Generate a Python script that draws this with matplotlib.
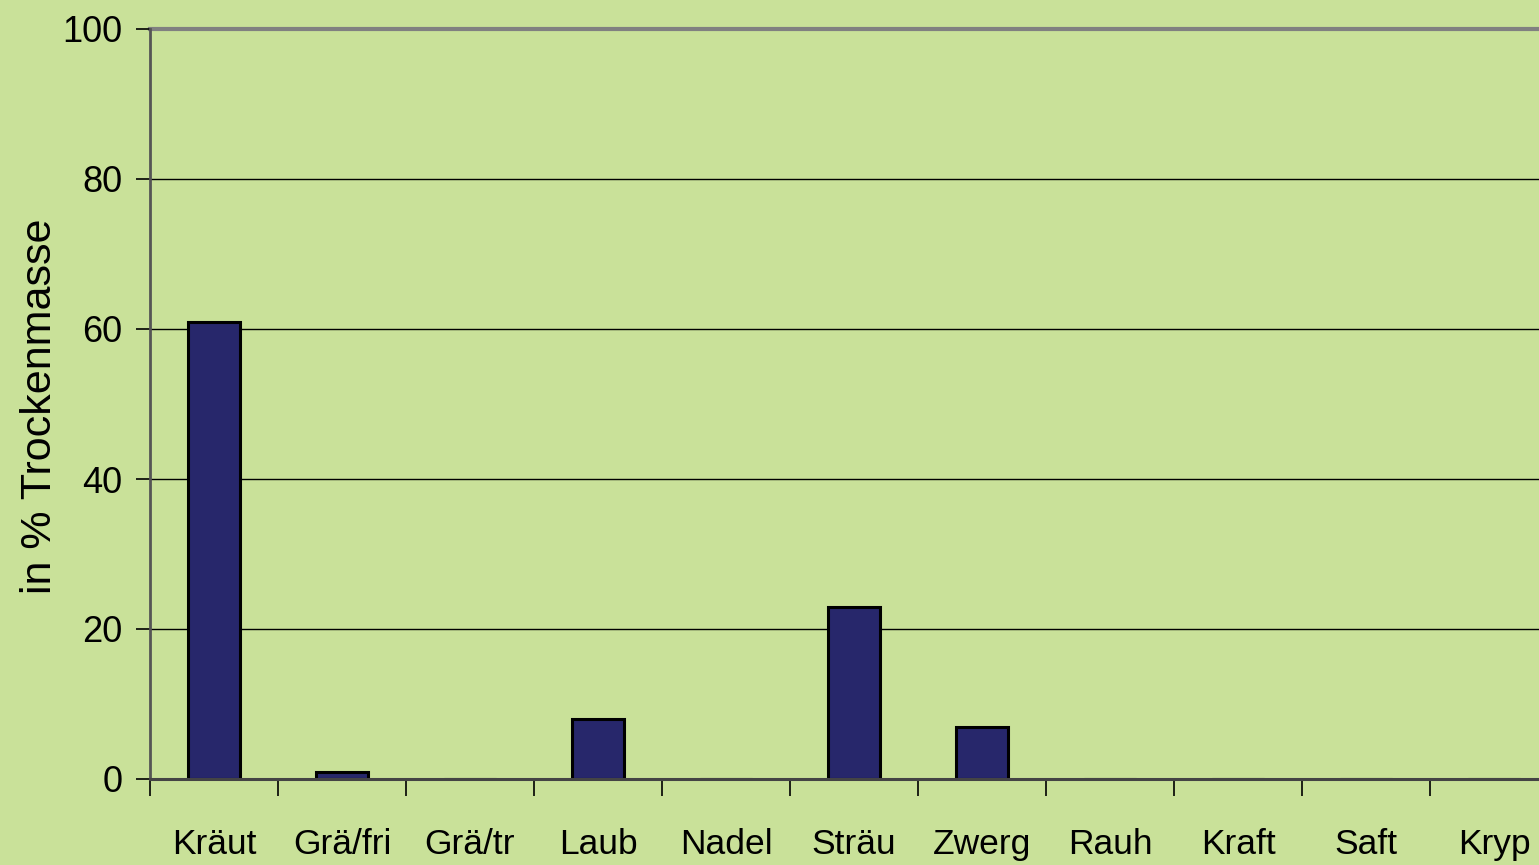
import matplotlib
matplotlib.use("Agg")
import matplotlib.pyplot as plt
import numpy as np

categories = ["Kräut", "Grä/fri", "Grä/tr", "Laub", "Nadel", "Sträu", "Zwerg", "Rauh", "Kraft", "Saft", "Kryp"]
values = [61, 1, 0, 8, 0, 23, 7, 0, 0, 0, 0]
yticks = [0, 20, 40, 60, 80, 100]
ylabel = "in % Trockenmasse"

bg = "#C9E199"
bar_color = "#27276B"

plt.rcParams['font.family'] = ['Liberation Sans Narrow', 'Liberation Sans', 'DejaVu Sans']

fig = plt.figure(figsize=(15.39, 8.65), dpi=100, facecolor=bg)
ax = fig.add_axes([150/1539, 1-779/865, 1408/1539, 750/865], facecolor=bg)

x = np.arange(len(categories))
ax.bar(x, values, width=0.41, color=bar_color, edgecolor="black", linewidth=2.2, zorder=3)

ax.set_xlim(-0.5, len(categories) - 0.5)
ax.set_ylim(0, 100)
ax.set_yticks(yticks)
ax.set_yticklabels([str(t) for t in yticks], fontsize=26)
ax.set_xticks(x)
ax.set_xticklabels(categories, fontsize=25.5)
ax.tick_params(axis='x', length=0, pad=35)
ax.set_xticks(np.arange(len(categories) + 1) - 0.5, minor=True)
ax.tick_params(axis='x', which='minor', length=12, width=1.2, color='black', direction='out')
ax.tick_params(axis='y', length=10, width=1.2, color='black', direction='out', pad=10)

for t in yticks[1:-1]:
    ax.axhline(t, color='black', linewidth=1.0, zorder=1)
ax.axhline(100, color='#808080', linewidth=3, zorder=1, clip_on=False)

for s in ['top', 'right']:
    ax.spines[s].set_visible(False)
ax.spines['left'].set_color('#555555')
ax.spines['left'].set_linewidth(2)
ax.spines['bottom'].set_color('#444444')
ax.spines['bottom'].set_linewidth(2.2)
ax.spines['bottom'].set_zorder(4)

ax.set_ylabel(ylabel, fontsize=31, family=['Liberation Sans', 'DejaVu Sans'])
ax.yaxis.set_label_coords((60 - 150) / 1408, (779 - 406) / 750)

fig.savefig("out.png", dpi=100, facecolor=bg)
